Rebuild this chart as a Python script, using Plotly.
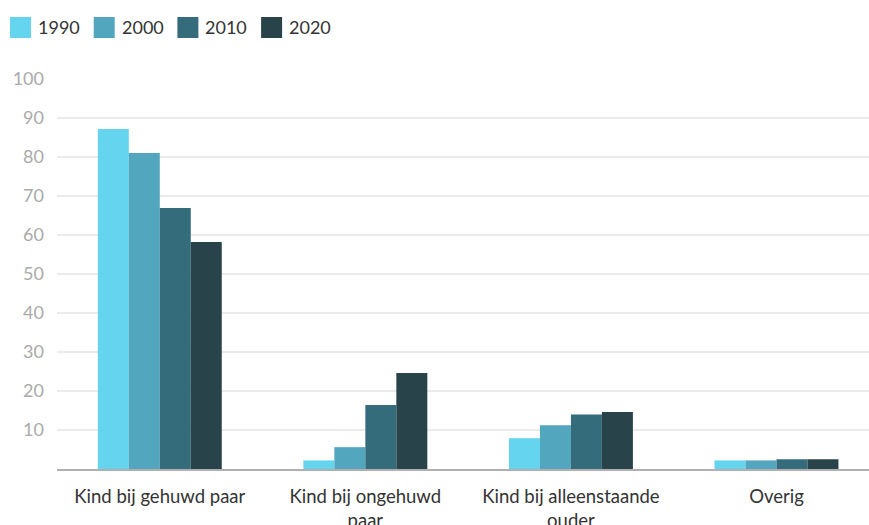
import plotly.graph_objects as go

categories = [
    "Kind bij gehuwd paar",
    "Kind bij ongehuwd<br>paar",
    "Kind bij alleenstaande<br>ouder",
    "Overig",
]
years = ["1990", "2000", "2010", "2020"]
values_1990 = [87.2, 2.2, 7.9, 2.2]
values_2000 = [81.0, 5.6, 11.2, 2.2]
values_2010 = [66.9, 16.4, 14.0, 2.5]
values_2020 = [58.2, 24.6, 14.6, 2.5]
y_ticks = [10, 20, 30, 40, 50, 60, 70, 80, 90, 100]

colors = ["#64d4ef", "#52a6bd", "#346c7b", "#29434b"]
series = [values_1990, values_2000, values_2010, values_2020]

fig = go.Figure()
for year, vals, color in zip(years, series, colors):
    fig.add_trace(
        go.Bar(
            x=categories,
            y=vals,
            name=year,
            marker=dict(color=color, line=dict(width=0)),
            showlegend=False,
        )
    )

# legend drawn by hand so the swatches can be as large as the original ones
# (offsets in pixels from the top-left corner of the plot area)
plot_left, plot_top = 57, 79
for i, (year, color) in enumerate(zip(years, colors)):
    sx = 10 + i * 83.7 - plot_left
    fig.add_shape(
        type="rect",
        xref="paper",
        yref="paper",
        xsizemode="pixel",
        ysizemode="pixel",
        xanchor=0,
        yanchor=1,
        x0=sx,
        x1=sx + 21,
        y0=plot_top - 38,
        y1=plot_top - 17,
        fillcolor=color,
        line=dict(width=0),
    )
    fig.add_annotation(
        text=year,
        xref="paper",
        yref="paper",
        x=0,
        y=1,
        xshift=sx + 26,
        yshift=plot_top - 27,
        xanchor="left",
        yanchor="middle",
        showarrow=False,
        font=dict(size=18, color="#333333"),
    )

fig.update_layout(
    width=869,
    height=525,
    barmode="group",
    bargap=0.397,
    bargroupgap=0,
    plot_bgcolor="white",
    paper_bgcolor="white",
    font=dict(family="Lato, 'Open Sans', sans-serif", size=18, color="#333333"),
    margin=dict(l=plot_left, r=0, t=plot_top, b=56),
    showlegend=False,
    xaxis=dict(
        automargin=False,
        # the last category runs a little past the right edge in the original
        range=[-0.5, 3.45],
        showgrid=False,
        showline=True,
        linecolor="#b0b0b0",
        linewidth=2,
        ticks="",
        ticklabelstandoff=10,
        tickfont=dict(size=18.5, color="#333333"),
    ),
    yaxis=dict(
        automargin=False,
        range=[0, 100],
        tickvals=y_ticks,
        showgrid=True,
        gridcolor="#ebebeb",
        gridwidth=2,
        zeroline=False,
        showline=False,
        ticks="",
        ticklabelstandoff=12,
        tickfont=dict(size=18, color="#aaaaaa"),
    ),
)

fig.write_html(
    "out.html",
    config={"displayModeBar": False},
    post_script="document.body.style.margin='0';",
)
